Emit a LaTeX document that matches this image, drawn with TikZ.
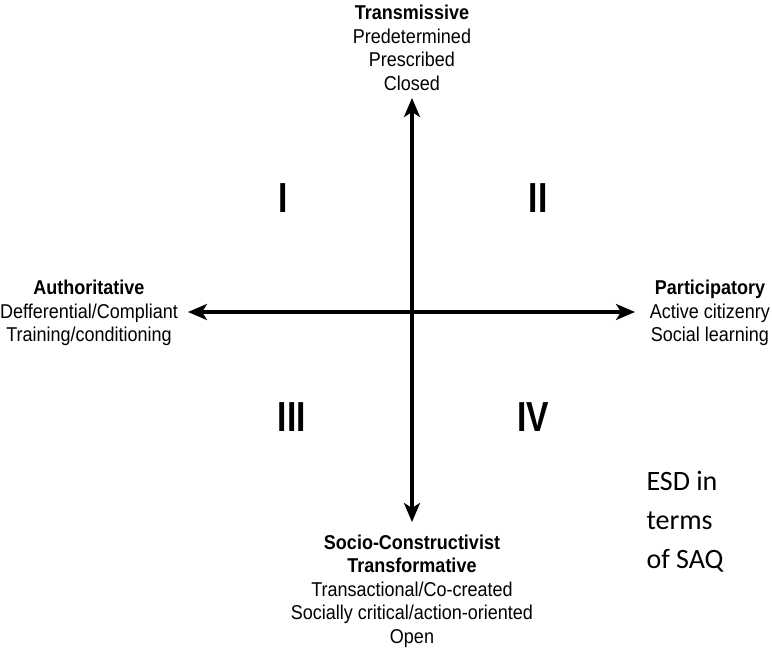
\documentclass[tikz,border=0pt]{standalone}
\usepackage{fontspec}
\setmainfont{Liberation Sans}
\newfontfamily\axisfont[FakeStretch=0.9]{Liberation Sans}
\newfontfamily\quadfont[FakeStretch=0.8]{Liberation Sans}
\newfontfamily\notefont{Carlito}
\usepackage{tikz}
\usetikzlibrary{arrows,arrows.meta,positioning,calc}

\begin{document}
\begin{tikzpicture}[
    x=1pt, y=-1pt,
    pole/.style={align=center, font=\axisfont\fontsize{20}{23.5}\selectfont},
    quad/.style={font=\quadfont\fontsize{42}{42}\selectfont\bfseries},
    axis/.style={line width=3.5pt, -{Stealth[length=19pt,width=16pt,inset=5pt]}}
]
    \useasboundingbox (0,0) rectangle (772,652);

    % Axes
    \coordinate (o) at (412,312);
    \coordinate (top) at (412,98);
    \coordinate (bottom) at (412,522);
    \coordinate (left) at (188,312);
    \coordinate (right) at (635,312);

    \draw[axis] (o) -- (top);
    \draw[axis] (o) -- (bottom);
    \draw[axis] (o) -- (left);
    \draw[axis] (o) -- (right);

    % Poles
    \node[pole] (transmissive) at (412,48) {\textbf{Transmissive}\\Predetermined\\Prescribed\\Closed};
    \node[pole] (authoritative) at (89,313) {\textbf{Authoritative}\\Defferential/Compliant\\Training/conditioning};
    \node[pole] (participatory) at (710,313) {\textbf{Participatory}\\Active citizenry\\Social learning};
    \node[pole] (socio) at (412,591) {\textbf{Socio-Constructivist}\\\textbf{Transformative}\\Transactional/Co-created\\Socially critical/action-oriented\\Open};

    % Quadrants
    \node[quad] (q1) at (283,198) {I};
    \node[quad] (q2) at (538,198) {II};
    \node[quad] (q3) at (292,417) {III};
    \node[quad] (q4) at (533,417) {IV};

    % Note
    \node[align=left, anchor=west, font=\notefont\fontsize{28}{39}\selectfont] (esd) at (643,522) {ESD in\\terms\\of SAQ};
\end{tikzpicture}
\end{document}
